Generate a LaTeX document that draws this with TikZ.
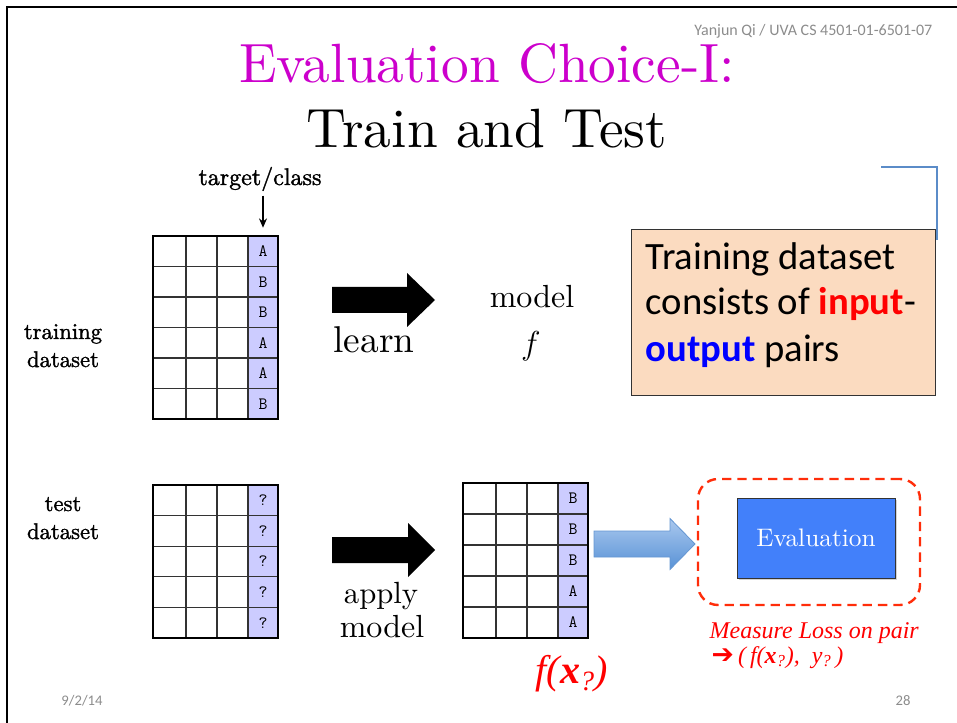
\documentclass[tikz,border=0pt]{standalone}
\usepackage{fontspec}
\usetikzlibrary{calc,shadows,arrows.meta}

\setmainfont[ItalicFont=lmroman10-italic.otf,BoldFont=lmroman10-bold.otf]{lmroman10-regular.otf}
\newfontfamily\heavyfont[FakeBold=1.5]{lmroman10-regular.otf}
\newfontfamily\calfont{Carlito}
\newfontfamily\timesfont{Liberation Serif}
\newfontfamily\symfont{DejaVu Sans}

\definecolor{titlemag}{RGB}{204,0,204}
\definecolor{footgray}{RGB}{140,140,140}
\definecolor{lav}{RGB}{204,204,255}
\definecolor{peach}{RGB}{251,219,192}
\definecolor{bracketblue}{RGB}{91,140,200}
\definecolor{evalblue}{RGB}{66,128,250}
\definecolor{lossred}{RGB}{255,45,10}
\definecolor{arrowtop}{RGB}{170,200,238}
\definecolor{arrowbot}{RGB}{88,146,214}
\definecolor{arrowedge}{RGB}{100,150,210}

\newcommand{\setfs}[2]{\fontsize{#1}{#2}\selectfont}

% data table: name, left, top, row height, rows, class labels
\newcommand{\datagrid}[6]{%
  \foreach \lab [count=\k] in {#6} {
    \node[classcell, minimum height={#4*0.75pt}] (#1-\k) at (#2+110, {#3+(\k-0.5)*#4}) {\lab};
  }
  \foreach \k in {1,...,#5} \draw[gridline] (#2, {#3+\k*#4}) -- (#2+125, {#3+\k*#4});
  \foreach \c in {33,64,95} \draw[gridline] (#2+\c, #3) -- (#2+\c, {#3+#5*#4});
  \node[tableframe, minimum height={#5*#4*0.75pt}, anchor=north west] (#1) at (#2,#3) {};
}

% block arrow: style, start, tip, shaft half width, head half width, head length
\newcommand{\blockarrow}[6]{%
  \path[#1] ($(#2)+(0,-#4)$) -- ($(#3)+(-#6,-#4)$) -- ($(#3)+(-#6,-#5)$) -- (#3)
    -- ($(#3)+(-#6,#5)$) -- ($(#3)+(-#6,#4)$) -- ($(#2)+(0,#4)$) -- cycle;
}

\begin{document}
\begin{tikzpicture}[x=0.75pt,y=-0.75pt,
  classcell/.style={fill=lav, minimum width=22.5pt, inner sep=0pt, font=\ttfamily\setfs{13}{13}},
  gridline/.style={line width=0.9pt, black!80},
  tableframe/.style={draw, line width=1.8pt, minimum width=93.75pt, inner sep=0pt, outer sep=0pt},
  serifbig/.style={font=\setfs{41.5}{48}},
  lbl/.style={anchor=base, font=\heavyfont\setfs{17}{20}},
  mid/.style={anchor=base, font=\setfs{24}{28}},
  notetext/.style={anchor=base west, font=\calfont\setfs{29}{34}},
  redtext/.style={anchor=base west, text=red, font=\timesfont\itshape\setfs{18}{20}},
  foot/.style={anchor=base, text=footgray, font=\calfont\setfs{11}{13}},
  peachbox/.style={draw=black!80, line width=0.6pt, fill=peach, minimum width=228pt, minimum height=124.5pt, inner sep=0pt, outer sep=0pt},
  lossbox/.style={draw=lossred, dash pattern=on 7pt off 4.5pt, line width=1.8pt, rounded corners=15pt, minimum width=166.5pt, minimum height=94.5pt},
  evalbox/.style={fill=evalblue, draw=black!80, line width=0.6pt, minimum width=118.5pt, minimum height=60pt, text=white, font=\setfs{19}{22}, drop shadow={opacity=0.35, shadow xshift=1.5pt, shadow yshift=-1.5pt}}
]
\useasboundingbox (0,0) rectangle (957,723);

% slide frame
\draw[line width=1.5pt] (7,723) -- (7,7.5) -- (957,7.5);

% header and title
\node[anchor=base east, text=footgray, font=\calfont\setfs{12}{14}] (hdr) at (937,36) {Yanjun Qi / UVA CS 4501-01-6501-07};
\node[serifbig, anchor=base, text=titlemag] (title1) at (487,83) {Evaluation Choice-I:};
\node[serifbig, anchor=base] (title2) at (487,148) {Train and Test};

% tables
\datagrid{train}{153}{236}{30.5}{6}{A,B,B,A,A,B}
\datagrid{test}{153}{485}{30.6}{5}{?,?,?,?,?}
\datagrid{pred}{463}{483}{31}{5}{B,B,B,A,A}

% target/class pointer
\node[anchor=base, font=\heavyfont\setfs{18}{20}] (tgt) at (260,185) {target/class};
\draw[-{Stealth[length=7pt,width=6pt]}, line width=0.8pt, shorten >=6pt] (tgt.south -| train-1) -- (train-1.north);

% row labels
\node[lbl] (trainlbl1) at (63,339) {training};
\node[lbl] (trainlbl2) at (63,367) {dataset};
\node[lbl] (testlbl1) at (63,511) {test};
\node[lbl] (testlbl2) at (63,539) {dataset};

% learn / apply arrows
\coordinate (la-s) at (332,300);
\coordinate (la-t) at (435,300);
\coordinate (aa-s) at (332,550);
\coordinate (aa-t) at (435,550);
\blockarrow{fill=black}{la-s}{la-t}{13}{27}{28}
\blockarrow{fill=black}{aa-s}{aa-t}{13}{27}{27}
\node[anchor=base, font=\setfs{28}{30}] (learn) at (374,353) {learn};
\node[mid] (model) at (532,308) {model};
\node[anchor=base, font=\setfs{26}{28}] (fsym) at (531,355) {$f$};
\node[mid, font=\setfs{23}{28}] (apply) at (381,603) {apply};
\node[mid] (model2) at (382,637) {model};

% note box
\coordinate (brk-a) at (881,167);
\coordinate (brk-b) at (937,240);
\node[peachbox, anchor=north west] (note) at (631,229) {};
\draw[bracketblue, line width=1.6pt] (brk-a) -| (brk-b);
\node[notetext] (note1) at (641,270) {Training dataset};
\node[notetext] (note2) at (641,315) {consists of \textcolor{red}{\bfseries input}-};
\node[notetext] (note3) at (641,362) {\textcolor{blue}{\bfseries output} pairs};

% evaluation
\node[lossbox] (loss) at (809,542) {};
\node[evalbox] (eval) at (816,538) {Evaluation};
\coordinate (ba-s) at (594,544);
\coordinate (ba-t) at (695,544);
\blockarrow{shade, top color=arrowtop, bottom color=arrowbot, draw=arrowedge, line width=0.6pt}{ba-s}{ba-t}{13}{25.5}{25}

\node[redtext] (lossl1) at (705,638) {Measure Loss on pair};
\node[redtext] (lossl2) at (707,663) {{\symfont\setfs{20}{20}➔}\,(\,f(\textbf{x}\textsubscript{?}),\ \ y\textsubscript{?}\,)};
\node[anchor=base, text=red, font=\timesfont\itshape\setfs{30}{32}] (fx) at (572,683) {f(\textbf{x}\textsubscript{?})};

% footer
\node[foot] (date) at (82,705) {9/2/14};
\node[foot] (page) at (903,705) {28};
\end{tikzpicture}
\end{document}
